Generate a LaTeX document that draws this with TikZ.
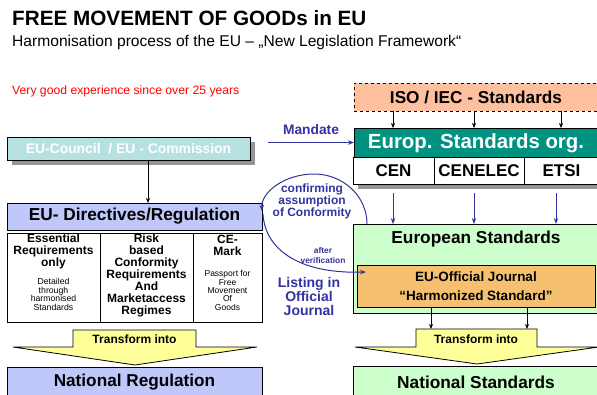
\documentclass[tikz,border=0pt]{standalone}
\usepackage{fontspec}
\setmainfont{Liberation Sans}
\usetikzlibrary{arrows.meta}
\definecolor{councilfill}{RGB}{183,225,225}
\definecolor{dirfill}{RGB}{192,200,250}
\definecolor{isofill}{RGB}{255,192,160}
\definecolor{tealfill}{RGB}{0,146,128}
\definecolor{greenfill}{RGB}{204,255,204}
\definecolor{orangefill}{RGB}{245,192,112}
\definecolor{yellowfill}{RGB}{255,255,153}
\definecolor{myblue}{RGB}{51,51,160}
\definecolor{shadowgray}{RGB}{150,150,150}
\newcommand\myfs[2]{\fontsize{#1}{#2}\selectfont}
\begin{document}
\begin{tikzpicture}[x=1pt,y=-1pt,
  box/.style={draw=black, line width=0.8pt, inner sep=0pt, outer sep=0pt},
  txt/.style={inner sep=0pt, align=center},
  arr/.style={-{Stealth[length=5pt,width=4pt]}, line width=0.7pt},
  blarr/.style={-{Stealth[length=6pt,width=4.5pt]}, line width=1pt, draw=myblue},
  bluetxt/.style={txt, text=myblue},
  trans/.style={draw=black, line width=0.8pt, fill=yellowfill}
]
\useasboundingbox (0,0) rectangle (597,394);
\clip (0,0) rectangle (597,394);

% titles
\node[anchor=base west, inner sep=0pt, font={\myfs{20.7}{22}\bfseries}] (title) at (12,25.5) {FREE MOVEMENT OF GOODs in EU};
\node[anchor=base west, inner sep=0pt, font={\myfs{15.6}{17}}] (sub) at (12,46) {Harmonisation process of the EU – „New Legislation Framework“};
\node[anchor=base west, inner sep=0pt, text=red, font={\myfs{12.2}{13}}] (exp) at (12,94.5) {Very good experience since over 25 years};

% left column
\fill[shadowgray] (12,142) rectangle (255,165);
\node[box, fill=councilfill, minimum width=243pt, minimum height=23pt, text=white, font={\myfs{13.9}{15}\bfseries}] (council) at (128.5,148.5) {EU-Council~~/ EU - Commission};
\node[box, fill=dirfill, minimum width=255pt, minimum height=27pt, font={\myfs{17.3}{19}\bfseries}] (dir) at (134.5,216.5) {EU- Directives/Regulation};
\coordinate (k) at (148,0);
\draw[arr] (council.south -| k) -- (dir.north -| k);

\node[box, minimum width=93pt, minimum height=89pt] (c1) at (53.5,277.5) {};
\node[box, minimum width=93pt, minimum height=89pt] (c2) at (146.5,277.5) {};
\node[box, minimum width=69pt, minimum height=89pt] (c3) at (227.5,277.5) {};
\node[txt, font={\myfs{12}{12}\bfseries}] (c1a) at (53.5,251) {Essential\\Requirements\\only};
\node[txt, font={\myfs{8.7}{8.5}}] (c1b) at (53.5,294.5) {Detailed\\through\\harmonised\\Standards};
\node[txt, font={\myfs{12}{12}\bfseries}] (c2a) at (146.5,275) {Risk\\based\\Conformity\\Requirements\\And\\Marketaccess\\Regimes};
\node[txt, font={\myfs{12}{12}\bfseries}] (c3a) at (227.5,245) {CE-\\Mark};
\node[txt, font={\myfs{8.5}{8.3}}] (c3b) at (227.5,290.5) {Passport for\\Free\\Movement\\Of\\Goods};

\draw[trans] (73,330) -- (196,330) -- (196,347) -- (257,347) -- (135,365) -- (13,347) -- (73,347) -- cycle;
\node[txt, font={\myfs{12}{12}\bfseries}] (tl) at (134.5,339) {Transform into};
\node[box, fill=dirfill, minimum width=255pt, minimum height=30pt, font={\myfs{17.2}{18}\bfseries}] (natreg) at (134.5,382) {National Regulation};

% right column
\node[box, dashed, fill=isofill, minimum width=245pt, minimum height=28pt, anchor=north west] (iso) at (354,83) {};
\node[txt, font={\myfs{17.2}{18}\bfseries}] (isot) at (476,97) {ISO / IEC - Standards};
\node[box, fill=tealfill, minimum width=245pt, minimum height=29pt, anchor=north west] (europ) at (354,128) {};
\node[txt, text=white, font={\myfs{20.4}{22}\bfseries}] (europt) at (476,143) {Europ. Standards org.};
\fill[shadowgray] (358,162) rectangle (602,189);
\node[box, fill=white, minimum width=81pt, minimum height=27pt, anchor=north west, font={\myfs{17}{18}\bfseries}] (cen) at (353,157) {CEN};
\node[box, fill=white, minimum width=90pt, minimum height=27pt, anchor=north west, font={\myfs{17}{18}\bfseries}] (cenelec) at (434,157) {CENELEC};
\node[box, fill=white, minimum width=75pt, minimum height=27pt, anchor=north west, font={\myfs{17}{18}\bfseries}] (etsi) at (524,157) {ETSI};

\coordinate (a1) at (393,0);
\coordinate (a2) at (474,0);
\coordinate (a3) at (561,0);
\draw[arr, line width=0.5pt] (iso.south -| a1) -- (europ.north -| a1);
\draw[arr, line width=0.5pt] (iso.south -| a2) -- (europ.north -| a2);
\draw[arr, line width=0.5pt] (iso.south -| a3) -- (europ.north -| a3);

\node[bluetxt, font={\myfs{13.8}{14}\bfseries}] (mandate) at (311,130) {Mandate};
\coordinate (m) at (268,142.5);
\draw[blarr] (m) -- (europ.west);

\node[box, fill=greenfill, minimum width=246pt, minimum height=89pt, anchor=north west] (eurostd) at (353,224) {};
\node[txt, font={\myfs{17.3}{18}\bfseries}] (eurostdt) at (476,239) {European Standards};
\node[box, fill=orangefill, minimum width=238pt, minimum height=42pt, anchor=north west] (journal) at (357,265) {};
\node[txt, font={\myfs{13.5}{19}\bfseries}] (journalt) at (476,286.5) {EU-Official Journal\\“Harmonized Standard”};

\coordinate (b1) at (393,193);
\coordinate (b2) at (474,193);
\coordinate (b3) at (556,193);
\draw[blarr] (b1) -- (b1 |- eurostd.north);
\draw[blarr] (b2) -- (b2 |- eurostd.north);
\draw[blarr] (b3) -- (b3 |- eurostd.north);

\draw[trans] (416,329) -- (537,329) -- (537,347) -- (599,347) -- (477,364) -- (355,347) -- (416,347) -- cycle;
\node[txt, font={\myfs{12}{12}\bfseries}] (tr) at (476,339) {Transform into};
\coordinate (j1) at (431,329);
\coordinate (j2) at (527,329);
\draw[arr] (journal.south -| j1) -- (j1);
\draw[arr] (journal.south -| j2) -- (j2);

\node[box, fill=greenfill, minimum width=246pt, minimum height=32pt, anchor=north west, font={\myfs{17.3}{18}\bfseries}] (natstd) at (353,366) {National Standards};

% conformity loop
\node[bluetxt, font={\myfs{12}{12}\bfseries}] (conf) at (312,201) {confirming\\assumption\\of Conformity};
\node[bluetxt, font={\myfs{8.4}{10}\bfseries}] (after) at (323,255) {after\\verification};
\node[bluetxt, font={\myfs{14}{14}\bfseries}] (listing) at (309,296) {Listing in\\Official\\Journal};
\coordinate (arcR) at (367,224);
\coordinate (arcT) at (314,174);
\coordinate (arcL) at (262,211);
\draw[blarr] (arcR) .. controls (367,196) and (343,174) .. (arcT)
                    .. controls (285,174) and (261,192) .. (arcL);
\coordinate (lowS) at (263,214);
\coordinate (lowE) at (366,272);
\draw[blarr] (lowS) .. controls (265,250) and (300,274) .. (lowE);
\end{tikzpicture}
\end{document}
